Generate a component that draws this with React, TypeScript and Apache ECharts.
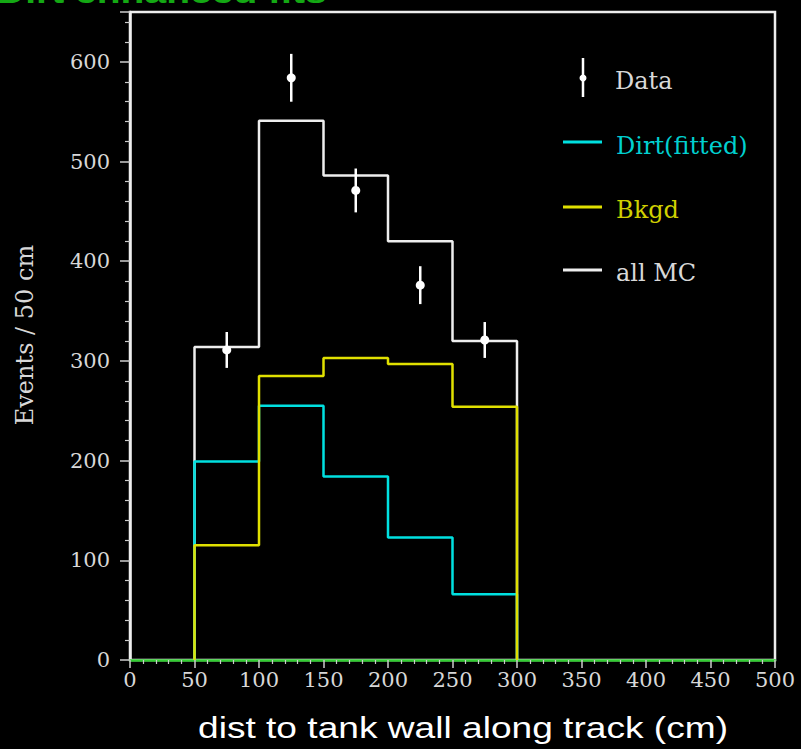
import React, { useEffect, useRef } from "react";
import * as echarts from "echarts";

const binEdges = [50, 100, 150, 200, 250, 300];
const allMC = [314, 541, 486, 420, 320];
const dirtFitted = [199, 255, 184, 123, 66];
const bkgd = [115, 285, 303, 297, 254];
const dataX = [75, 125, 175, 225, 275];
const dataY = [311, 584, 471, 376, 321];
const dataErr = [18, 24, 22, 19, 18];

const titleText = "Dirt enhanced fits";
const xName = "dist to tank wall along track (cm)";
const yName = "Events / 50 cm";
const legendNames = ["Data", "Dirt(fitted)", "Bkgd", "all MC"];

const WHITE = "#eeeeee";
const CYAN = "#00e0e0";
const YELLOW = "#e0e000";
const GREEN = "#33cc33";

function histPoints(values: number[]): number[][] {
  const pts: number[][] = [[binEdges[0], 0]];
  values.forEach((v, i) => {
    pts.push([binEdges[i], v]);
    pts.push([binEdges[i + 1], v]);
  });
  pts.push([binEdges[binEdges.length - 1], 0]);
  return pts;
}

export default function App() {
  const ref = useRef<HTMLDivElement>(null);
  useEffect(() => {
    if (!ref.current) return;
    const chart = echarts.init(ref.current, null, { renderer: "svg" });
    const serif = "DejaVu Serif";
    const lineSeries = (name: string, vals: number[], color: string, z: number) => ({
      name,
      type: "line",
      data: histPoints(vals),
      showSymbol: false,
      symbol: "none",
      lineStyle: { color, width: 2.5 },
      z,
      silent: true,
    });
    chart.setOption({
      animation: false,
      backgroundColor: "#000000",
      grid: {
        left: 130,
        top: 12,
        width: 645,
        height: 648,
        containLabel: false,
        outerBoundsMode: "none",
        show: true,
        borderColor: WHITE,
        borderWidth: 2.5,
        backgroundColor: "transparent",
      },
      xAxis: {
        type: "value",
        min: 0,
        max: 500,
        interval: 50,
        splitLine: { show: false },
        axisLine: { show: true, lineStyle: { color: GREEN, width: 2.5 } },
        axisTick: { show: true, inside: false, length: 8, lineStyle: { color: "#cccccc", width: 1.5 } },
        minorTick: { show: true, splitNumber: 5, length: 4, lineStyle: { color: "#cccccc", width: 1.2 } },
        axisLabel: { color: "#d8d8d8", fontFamily: serif, fontSize: 21, margin: 9 },
      },
      yAxis: {
        type: "value",
        min: 0,
        max: 650,
        interval: 100,
        splitLine: { show: false },
        axisLine: { show: true, lineStyle: { color: WHITE, width: 2.5 } },
        axisTick: { show: true, inside: false, length: 10, lineStyle: { color: "#cccccc", width: 1.5 } },
        minorTick: { show: true, splitNumber: 5, length: 5, lineStyle: { color: "#cccccc", width: 1.2 } },
        axisLabel: {
          color: "#d8d8d8",
          fontFamily: serif,
          fontSize: 21,
          margin: 20,
          formatter: (v: number) => (v % 100 === 0 ? String(v) : ""),
        },
      },
      series: [
        lineSeries("all MC", allMC, WHITE, 2),
        lineSeries("Dirt(fitted)", dirtFitted, CYAN, 3),
        lineSeries("Bkgd", bkgd, YELLOW, 4),
        {
          name: "Data",
          type: "custom",
          z: 6,
          silent: true,
          data: dataX.map((x, i) => [x, dataY[i], dataErr[i]]),
          renderItem: (params: any, api: any) => {
            const x = api.value(0);
            const y = api.value(1);
            const e = api.value(2);
            const top = api.coord([x, y + e]);
            const bot = api.coord([x, y - e]);
            const c = api.coord([x, y]);
            return {
              type: "group",
              children: [
                {
                  type: "line",
                  shape: { x1: top[0], y1: top[1], x2: bot[0], y2: bot[1] },
                  style: { stroke: "#ffffff", lineWidth: 2.5 },
                },
                {
                  type: "circle",
                  shape: { cx: c[0], cy: c[1], r: 4.5 },
                  style: { fill: "#ffffff" },
                },
              ],
            };
          },
        },
      ],
      graphic: [
        {
          type: "text",
          x: -3,
          y: 8,
          scaleX: 1.22,
          style: {
            text: titleText,
            fill: "#14a814",
            font: "bold 32px 'Liberation Sans'",
            textAlign: "left",
            verticalAlign: "bottom",
          },
        },
        {
          type: "text",
          x: 463,
          y: 728,
          scaleX: 1.28,
          style: {
            text: xName,
            fill: "#ffffff",
            font: "29px 'Liberation Sans'",
            align: "center",
            verticalAlign: "middle",
          },
        },
        {
          type: "text",
          x: 25,
          y: 335,
          rotation: Math.PI / 2,
          style: {
            text: yName,
            fill: "#d8d8d8",
            font: "24px 'DejaVu Serif'",
            align: "center",
            verticalAlign: "middle",
          },
        },
        {
          type: "line",
          shape: { x1: 583, y1: 58, x2: 583, y2: 97 },
          style: { stroke: "#ffffff", lineWidth: 2.5 },
        },
        {
          type: "circle",
          shape: { cx: 583, cy: 78, r: 3.5 },
          style: { fill: "#ffffff" },
        },
        {
          type: "text",
          x: 615,
          y: 81,
          style: { text: legendNames[0], fill: "#d8d8d8", font: "24px 'DejaVu Serif'", align: "left", verticalAlign: "middle" },
        },
        {
          type: "line",
          shape: { x1: 563, y1: 142, x2: 602, y2: 142 },
          style: { stroke: CYAN, lineWidth: 3 },
        },
        {
          type: "text",
          x: 616,
          y: 146,
          style: { text: legendNames[1], fill: "#00d0d0", font: "24px 'DejaVu Serif'", align: "left", verticalAlign: "middle" },
        },
        {
          type: "line",
          shape: { x1: 563, y1: 207, x2: 602, y2: 207 },
          style: { stroke: YELLOW, lineWidth: 3 },
        },
        {
          type: "text",
          x: 616,
          y: 210,
          style: { text: legendNames[2], fill: "#d0d000", font: "24px 'DejaVu Serif'", align: "left", verticalAlign: "middle" },
        },
        {
          type: "line",
          shape: { x1: 563, y1: 270, x2: 602, y2: 270 },
          style: { stroke: WHITE, lineWidth: 3 },
        },
        {
          type: "text",
          x: 616,
          y: 273,
          style: { text: legendNames[3], fill: "#d8d8d8", font: "24px 'DejaVu Serif'", align: "left", verticalAlign: "middle" },
        },
      ],
    });
    return () => chart.dispose();
  }, []);
  return (
    <div
      style={{ position: "absolute", left: 0, top: 0, width: 801, height: 749, background: "#000000" }}
    >
      <div ref={ref} style={{ width: 801, height: 749 }} />
    </div>
  );
}
